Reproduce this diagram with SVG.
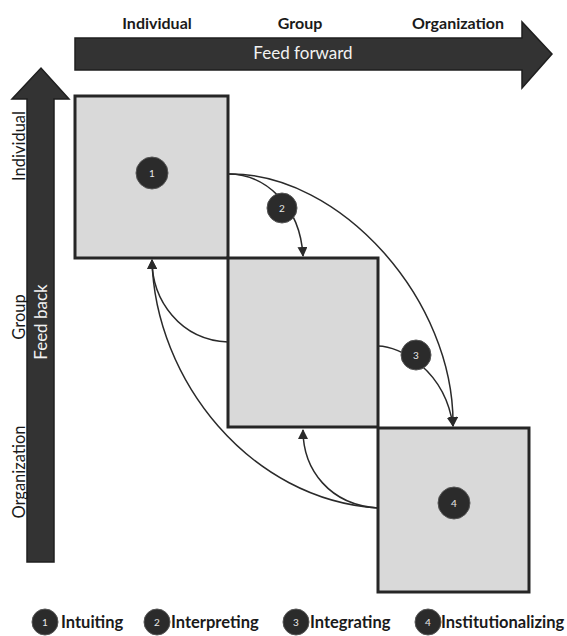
<svg xmlns="http://www.w3.org/2000/svg" width="567" height="636" viewBox="0 0 567 636">
<style>
.box{fill:#d9d9d9;stroke:#262626;stroke-width:3}
.big{fill:#333333;stroke:#1f1f1f;stroke-width:1.5}
.con{fill:none;stroke:#2a2a2a;stroke-width:1.5}
.num{fill:#2b2b2b;stroke:#555;stroke-width:1}
.nt{font-family:Lato,"Liberation Sans",sans-serif;font-size:10px;fill:#e8e8e8;text-anchor:middle}
.lab{font-family:Lato,"Liberation Sans",sans-serif;font-weight:bold;font-size:16px;fill:#1a1a1a;text-anchor:middle}
.side{font-family:Lato,"Liberation Sans",sans-serif;font-size:16.5px;fill:#1a1a1a;text-anchor:middle}
.wt{font-family:Lato,"Liberation Sans",sans-serif;font-size:17px;fill:#f2f2f2;text-anchor:middle}
.leg{font-family:Lato,"Liberation Sans",sans-serif;font-weight:bold;font-size:16.5px;fill:#1a1a1a}
</style>
<defs>
<marker id="ah" markerWidth="10" markerHeight="10" refX="9" refY="5" orient="auto" markerUnits="userSpaceOnUse">
<path d="M0,0 L10,5 L0,10 Z" fill="#2a2a2a"/>
</marker>
</defs>
<g id="feed-forward">
<path class="big" d="M75,38 H522 V22 L552,54 L522,88 V70 H75 Z"/>
<text class="wt" x="303" y="59">Feed forward</text>
</g>
<g id="feed-back">
<path class="big" d="M27,562 V99 H12 L41,68 L69,99 H54 V562 Z"/>
<text class="wt" transform="translate(47,322) rotate(-90)">Feed back</text>
</g>
<g id="top-labels">
<text class="lab" x="157" y="29">Individual</text>
<text class="lab" x="300" y="29">Group</text>
<text class="lab" x="458" y="29">Organization</text>
</g>
<g id="side-labels">
<text class="side" transform="translate(25,146) rotate(-90)">Individual</text>
<text class="side" transform="translate(25,317) rotate(-90)">Group</text>
<text class="side" transform="translate(25,472) rotate(-90)">Organization</text>
</g>
<g id="box-individual"><rect class="box" x="75" y="96" width="153" height="162"/></g>
<g id="box-group"><rect class="box" x="228" y="258" width="150" height="169"/></g>
<g id="box-organization"><rect class="box" x="378" y="428" width="151" height="164"/></g>
<g id="connectors">
<path class="con" d="M228,174 C265,174 300,205 303,256" marker-end="url(#ah)"/>
<path class="con" d="M228,174 C340,172 455,300 453,426" marker-end="url(#ah)"/>
<path class="con" d="M378,346 C400,346 445,370 453,426" marker-end="url(#ah)"/>
<path class="con" d="M378,508 C330,505 303,470 303,430" marker-end="url(#ah)"/>
<path class="con" d="M378,508 C250,500 155,380 152,260" marker-end="url(#ah)"/>
<path class="con" d="M228,342 C180,340 152,300 152,260" marker-end="url(#ah)"/>
</g>
<g id="step-1"><circle class="num" cx="152" cy="173" r="16"/><text class="nt" x="152" y="177">1</text></g>
<g id="step-2"><circle class="num" cx="282" cy="208" r="15"/><text class="nt" x="282" y="212">2</text></g>
<g id="step-3"><circle class="num" cx="416" cy="355" r="15"/><text class="nt" x="416" y="359">3</text></g>
<g id="step-4"><circle class="num" cx="454" cy="503" r="16"/><text class="nt" x="454" y="507">4</text></g>
<g id="legend">
<circle class="num" cx="45" cy="622" r="13"/><text class="nt" x="45" y="626">1</text>
<text class="leg" x="61" y="628">Intuiting</text>
<circle class="num" cx="157" cy="622" r="13"/><text class="nt" x="157" y="626">2</text>
<text class="leg" x="171" y="628">Interpreting</text>
<circle class="num" cx="296" cy="622" r="13"/><text class="nt" x="296" y="626">3</text>
<text class="leg" x="310" y="628">Integrating</text>
<circle class="num" cx="428" cy="622" r="13"/><text class="nt" x="428" y="626">4</text>
<text class="leg" x="441" y="628">Institutionalizing</text>
</g>
</svg>
